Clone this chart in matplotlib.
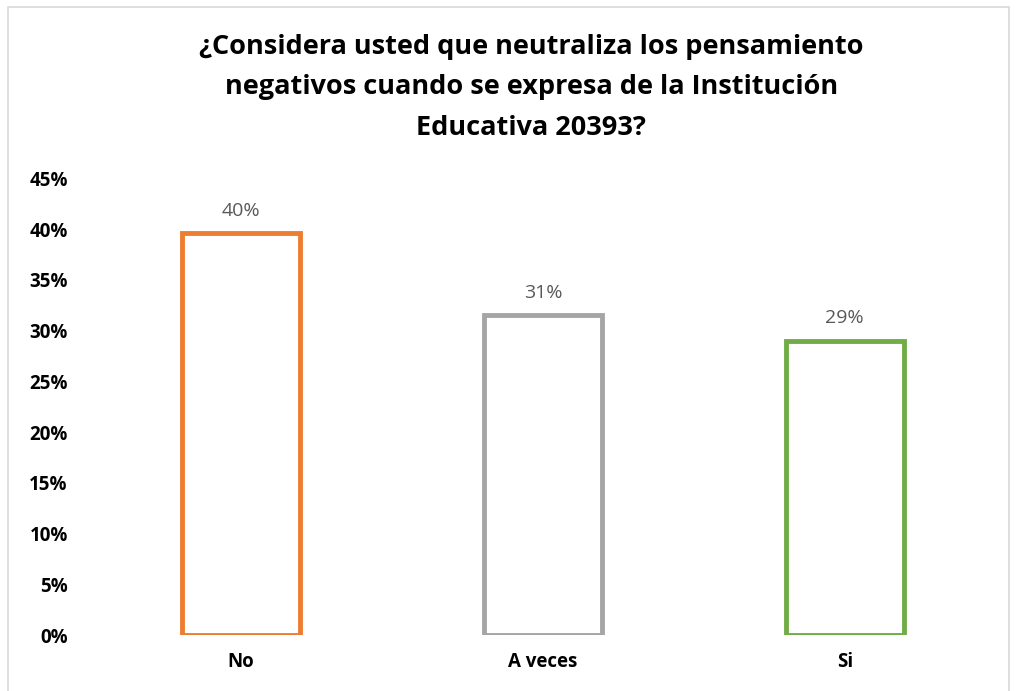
import matplotlib.pyplot as plt
from matplotlib.patches import Rectangle
from matplotlib.ticker import PercentFormatter
import numpy as np

categories = ['No', 'A veces', 'Si']
values = [0.396, 0.315, 0.29]
labels = ['40%', '31%', '29%']
colors = ['#ED7D31', '#A5A5A5', '#70AD47']
yticks = [0, 0.05, 0.10, 0.15, 0.20, 0.25, 0.30, 0.35, 0.40, 0.45]

plt.rcParams['font.family'] = ['Open Sans', 'DejaVu Sans']

fig = plt.figure(figsize=(10.16, 6.91), dpi=100)
ax = fig.add_axes([0.0886, 0.081, 0.8914, 0.661])

x = np.arange(len(categories))
ax.bar(x, values, 0.39, facecolor='white', edgecolor=colors, linewidth=3.5)
for xi, v, lab in zip(x, values, labels):
	ax.text(xi, v + 0.013, lab, ha='center', va='bottom', fontsize=14, color='#595959')

ax.set_xlim(-0.5, 2.5)
ax.set_ylim(0, 0.45)
ax.set_yticks(yticks)
ax.yaxis.set_major_formatter(PercentFormatter(1.0, decimals=0))
ax.set_xticks(x)
ax.set_xticklabels(categories)
for t in ax.get_xticklabels() + ax.get_yticklabels():
	t.set_fontweight('bold')
	t.set_fontsize(13.5)
ax.tick_params(length=0, pad=16)
ax.tick_params(axis='x', pad=12)
for s in ax.spines.values():
	s.set_visible(False)

fig.text(0.523, 0.951, '¿Considera usted que neutraliza los pensamiento\nnegativos cuando se expresa de la Institución\nEducativa 20393?',
	ha='center', va='top', fontsize=19.5, fontweight='bold', linespacing=1.73)

fig.patches.append(Rectangle((0.008, -0.01), 0.985, 1.0, transform=fig.transFigure,
	fill=False, edgecolor='#D9D9D9', linewidth=1.2))

fig.savefig('out.png', dpi=100)
